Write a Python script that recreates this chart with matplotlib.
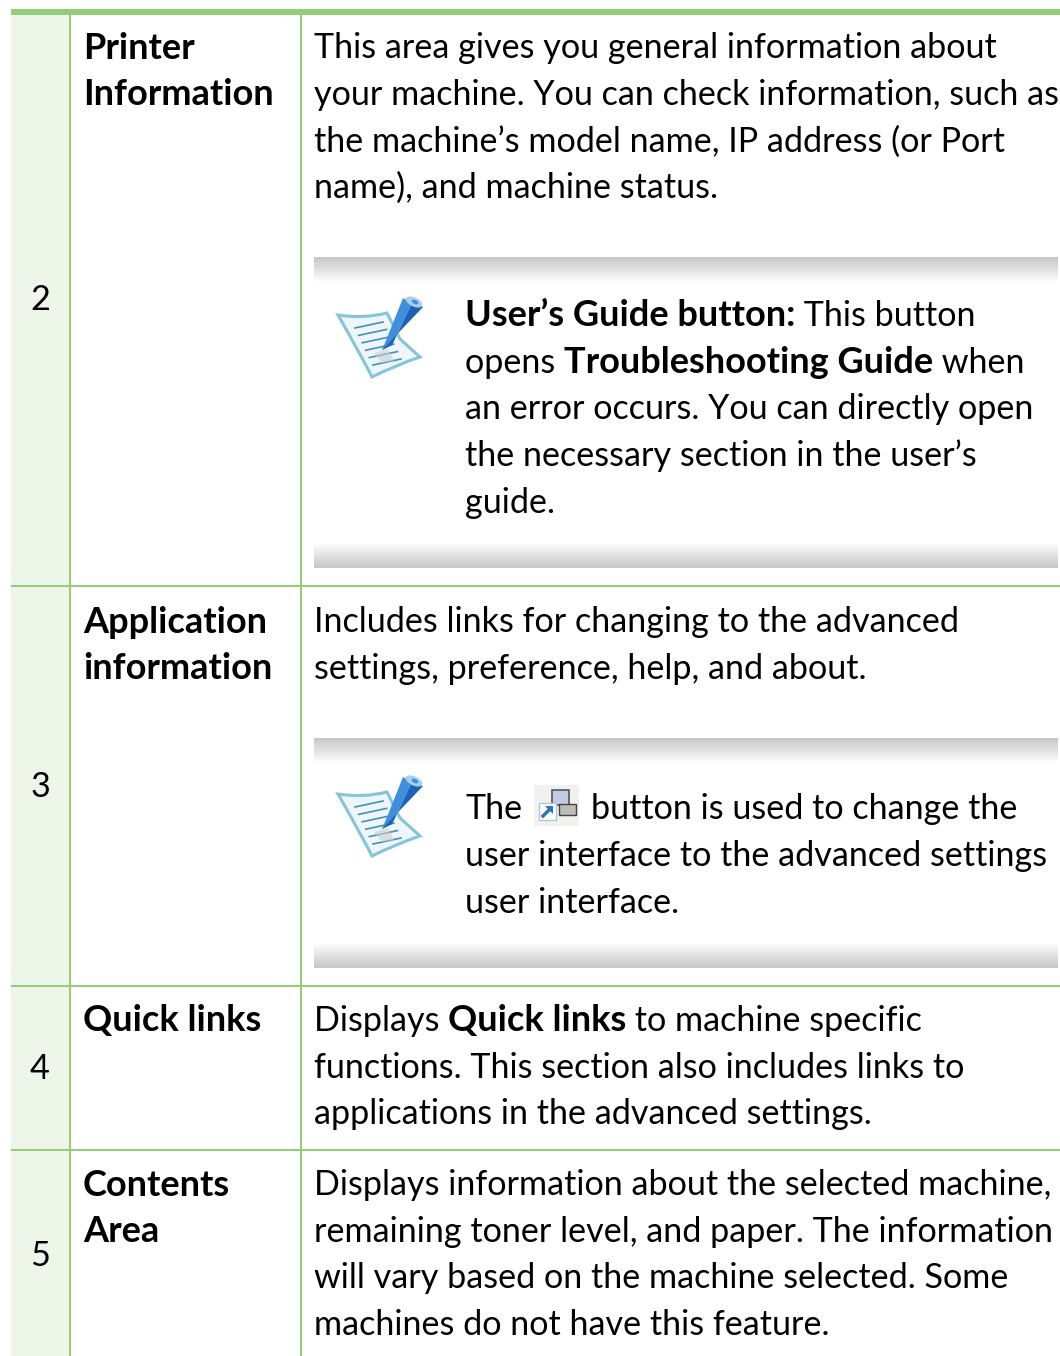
import numpy as np
import matplotlib
matplotlib.use("Agg")
from matplotlib import pyplot as plt
from matplotlib.patches import PathPatch, Polygon, Rectangle, Ellipse
from matplotlib.path import Path

W, H = 1060, 1356
FONT = "Lato"
SIZE = 24.55
SIZE_BOLD = 26.0
GREEN = "#93ce76"
PALE = "#eef5e9"

row_numbers = ["2", "3", "4", "5"]
row_number_y = [310, 797, 1079, 1266]
row_rules = [586, 986, 1150]

labels = [(["Printer", "Information"], 59),
          (["Application", "information"], 633),
          (["Quick links"], 1031),
          (["Contents", "Area"], 1196)]

# each line is a list of (text, bold) runs
body_printer = [[("This area gives you general information about", 0)],
                [("your machine. You can check information, such as", 0)],
                [("the machine\u2019s model name, IP address (or Port", 0)],
                [("name), and machine status.", 0)]]
note_printer = [[("User\u2019s Guide button:", 1), (" This button", 0)],
                [("opens ", 0), ("Troubleshooting Guide", 1), (" when", 0)],
                [("an error occurs. You can directly open", 0)],
                [("the necessary section in the user\u2019s", 0)],
                [("guide.", 0)]]
body_app = [[("Includes links for changing to the advanced", 0)],
            [("settings, preference, help, and about.", 0)]]
note_app = [[("user interface to the advanced settings", 0)],
            [("user interface.", 0)]]
body_quick = [[("Displays ", 0), ("Quick links", 1), (" to machine specific", 0)],
              [("functions. This section also includes links to", 0)],
              [("applications in the advanced settings.", 0)]]
body_contents = [[("Displays information about the selected machine,", 0)],
                 [("remaining toner level, and paper. The information", 0)],
                 [("will vary based on the machine selected. Some", 0)],
                 [("machines do not have this feature.", 0)]]

fig = plt.figure(figsize=(W / 100, H / 100), dpi=100)
ax = fig.add_axes([0, 0, 1, 1])
ax.set_xlim(0, W)
ax.set_ylim(H, 0)
ax.axis("off")


def draw_runs(x, y, runs):
    rend = fig.canvas.get_renderer()
    for txt, bold in runs:
        t = ax.text(x, y, txt, family=FONT, fontsize=SIZE_BOLD if bold else SIZE,
                    va="baseline", color="black", weight="bold" if bold else "normal")
        x += t.get_window_extent(rend).width
    return x


def draw_block(x, y, lines, step=46.7):
    for i, runs in enumerate(lines):
        draw_runs(x, y + i * step, runs)


def gradient(y0, y1, flip):
    g = np.linspace(0.78, 1.0, 30).reshape(-1, 1)
    if flip:
        g = g[::-1]
    ax.imshow(g, extent=[314, 1058, y1, y0], cmap="gray", vmin=0, vmax=1, aspect="auto", zorder=1)


def note_icon(x, y):
    # sheet of paper with curved edges
    codes = [Path.MOVETO, Path.CURVE3, Path.CURVE3, Path.LINETO, Path.LINETO,
             Path.CURVE3, Path.CURVE3, Path.CURVE3, Path.CURVE3, Path.CLOSEPOLY]
    pts = [(0, 20), (25, 24), (49, 18), (62, 44), (82, 62), (58, 70), (34, 82),
           (24, 62), (0, 20), (0, 20)]
    paper = Path([(x + a, y + b) for a, b in pts], codes)
    ax.add_patch(PathPatch(paper, fc="#eff6fb", ec="#86c4da", lw=2.2, zorder=3))
    for i in range(6):
        ax.plot([x + 17 + i * 3.6, x + 45 + i * 3.6], [y + 33 + i * 7.4, y + 27 + i * 7.4],
                color="#3f93b5", lw=1.2, zorder=4)
    # pencil, two facets and a lighter end
    ax.add_patch(Polygon([(x + 44, y + 55), (x + 49, y + 43), (x + 65, y + 3), (x + 74, y + 8), (x + 54, y + 50)],
                         fc="#3f8fdb", ec="none", zorder=5))
    ax.add_patch(Polygon([(x + 54, y + 50), (x + 74, y + 8), (x + 85, y + 12), (x + 44, y + 55)],
                         fc="#1b62b8", ec="none", zorder=5))
    ax.add_patch(Ellipse((x + 76, y + 7), 18, 9, angle=25, fc="#a9cdea", ec="none", zorder=6))
    ax.add_patch(Ellipse((x + 77, y + 7), 7, 4, angle=25, fc="#3f8fdb", ec="none", zorder=7))
    ax.add_patch(Polygon([(x + 36, y + 58), (x + 50, y + 54), (x + 56, y + 66), (x + 44, y + 68)],
                         fc="#cfcfcf", ec="none", alpha=0.6, zorder=4))


def button_icon(x, y):
    ax.add_patch(Rectangle((x, y), 45, 41, fc="#f1f1f0", ec="none", zorder=2))
    ax.add_patch(Rectangle((x + 18, y + 5), 17, 15, fc="#c2cbe6", ec="#555555", lw=1.2, zorder=3))
    ax.add_patch(Rectangle((x + 25, y + 19), 17, 11, fc="#bdbdb5", ec="#444444", lw=1, zorder=4))
    ax.add_patch(Rectangle((x + 5, y + 18), 17, 17, fc="white", ec="#b9c4cf", lw=1, zorder=4))
    ax.plot([x + 9, x + 17], [y + 31, y + 23], color="#2e75b5", lw=2.5, zorder=5)
    ax.add_patch(Polygon([(x + 11, y + 21), (x + 19, y + 21), (x + 19, y + 29)], fc="#2e75b5", ec="none", zorder=5))


# table frame
ax.add_patch(Rectangle((11, 15), 58, H - 15, fc=PALE, ec="none", zorder=0))
ax.add_patch(Rectangle((11, 9), W - 11, 6, fc=GREEN, ec="none", zorder=2))
for y in row_rules:
    ax.add_patch(Rectangle((11, y - 1), W - 11, 2, fc=GREEN, ec="none", zorder=2))
for x in [70, 301]:
    ax.add_patch(Rectangle((x - 1, 15), 2, H - 15, fc=GREEN, ec="none", zorder=2))

for num, y in zip(row_numbers, row_number_y):
    ax.text(40, y, num, family=FONT, fontsize=SIZE, ha="center", va="baseline", color="black")
for lines, y in labels:
    draw_block(83, y, [[(s, 1)] for s in lines], step=46)

for y0, y1 in [(257, 283), (738, 764)]:
    gradient(y0, y1, False)
for y0, y1 in [(542, 568), (942, 968)]:
    gradient(y0, y1, True)
note_icon(338, 295)
note_icon(338, 774)
button_icon(534, 785)

draw_block(314, 58, body_printer)
draw_block(465, 326, note_printer)
draw_block(314, 632, body_app)
draw_runs(465, 819, [("The", 0)])
draw_runs(591, 819, [("button is used to change the", 0)])
draw_block(465, 866, note_app)
draw_block(314, 1031, body_quick)
draw_block(314, 1195, body_contents)

ax.set_xlim(0, W)
ax.set_ylim(H, 0)
fig.savefig("out.png", dpi=100)
